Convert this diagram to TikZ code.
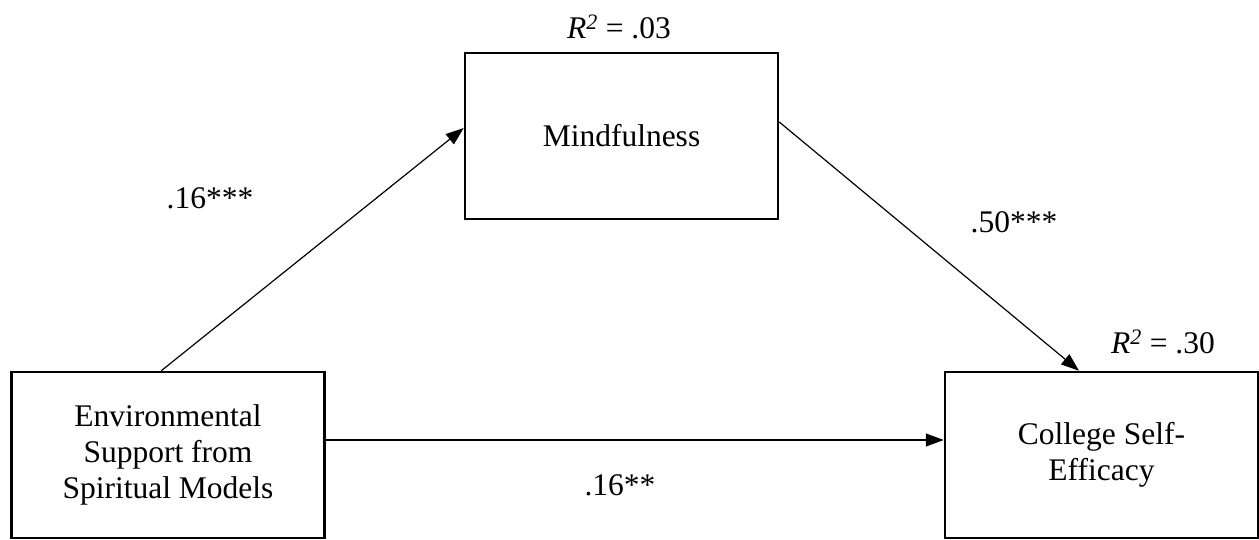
\documentclass[tikz,border=0pt]{standalone}
\usepackage{fontspec}
\setmainfont{Liberation Serif}
\usetikzlibrary{arrows.meta}
\begin{document}
\begin{tikzpicture}[x=1pt,y=-1pt,
  varbox/.style={draw, line width=2.5pt, minimum width=313pt, minimum height=166pt, align=center, inner sep=0pt,
    font=\fontsize{31.5}{36}\selectfont},
  lbl/.style={inner sep=0pt, font=\fontsize{31.5}{36}\selectfont},
  arr/.style={line width=1.2pt, -{Triangle[length=18pt,width=13pt]}}]
\useasboundingbox (0,0) rectangle (1259,540);
\node[varbox] (M) at (621.5,136) {Mindfulness};
\node[varbox] (L) at (168,455) {Environmental\\Support from\\Spiritual Models};
\node[varbox] (R) at (1101.5,455) {College Self-\\Efficacy};
\node[lbl] (r1) at (619,27) {\textit{R\textsuperscript{2}} = .03};
\node[lbl] (r2) at (1163,342) {\textit{R\textsuperscript{2}} = .30};
\node[lbl] (a) at (210,198) {.16***};
\node[lbl] (b) at (1014,222) {.50***};
\node[lbl] (c) at (620,485) {.16**};
\draw[arr] ([xshift=151pt]L.north west) -- ([yshift=8pt]M.west);
\draw[arr] ([yshift=14pt]M.east) -- ([xshift=-22.5pt]R.north);
\draw[arr] ([yshift=15pt]L.east) -- ([yshift=15pt]R.west);
\end{tikzpicture}
\end{document}
